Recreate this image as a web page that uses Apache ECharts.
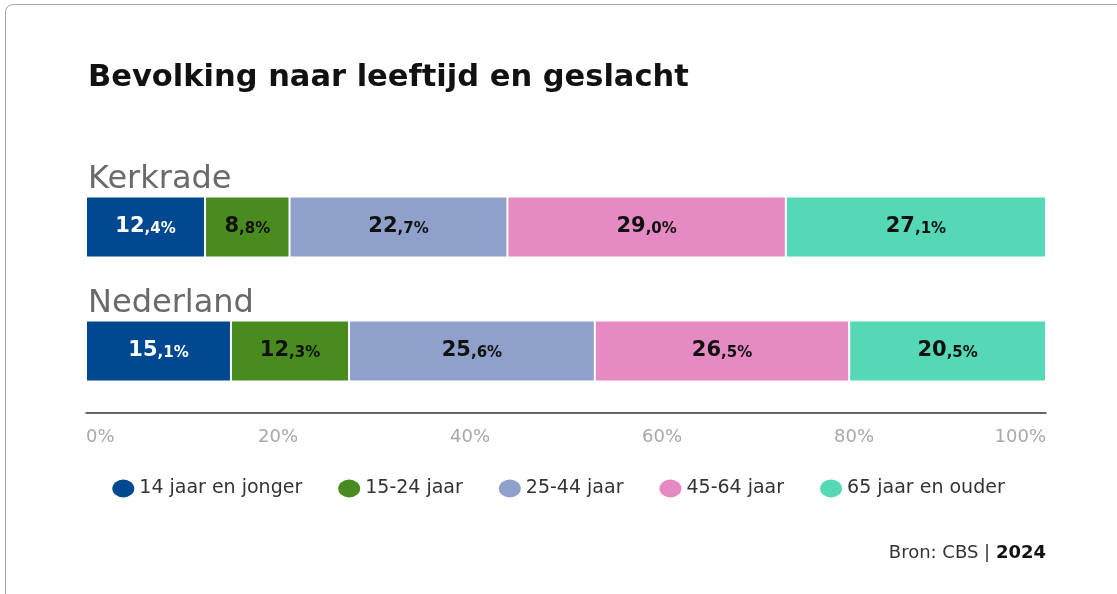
<!DOCTYPE html>
<html>
<head>
<meta charset="utf-8">
<title>Bevolking naar leeftijd en geslacht</title>
<script src="https://cdn.jsdelivr.net/npm/echarts@6/dist/echarts.min.js"></script>
<style>
  html, body {
    margin: 0;
    padding: 0;
    background: #fff;
    overflow: hidden;
  }
  .card {
    position: absolute;
    left: 5px;
    top: 4px;
    width: 1200px;
    height: 700px;
    border: 1.5px solid #a8a8a8;
    border-radius: 8px;
  }
  #chart {
    position: absolute;
    left: 0;
    top: 0;
    width: 1117px;
    height: 594px;
  }
</style>
</head>
<body>
<div class="card"></div>
<div id="chart"></div>
<script>
// regio's (categorieen)
const regions = ["Kerkrade", "Nederland"];
// leeftijdsgroepen (legenda)
const ageGroups = [
  "14 jaar en jonger",
  "15-24 jaar",
  "25-44 jaar",
  "45-64 jaar",
  "65 jaar en ouder",
];
// aandeel per groep, in procenten
const kerkradeValues = [12.4, 8.8, 22.7, 29.0, 27.1];
const nederlandValues = [15.1, 12.3, 25.6, 26.5, 20.5];
const tickLabels = ["0%", "20%", "40%", "60%", "80%", "100%"];

const colors = ["#00488f", "#4a8b1f", "#8fa1cb", "#e58ac2", "#55d8b5"];
const labelColors = ["#ffffff", "#111111", "#111111", "#111111", "#111111"];
const font = "DejaVu Sans";

const chart = echarts.init(document.getElementById("chart"));

// 12.4 -> "{big|12}{small|,4%}"
function pctLabel(v) {
  const parts = v.toFixed(1).split(".");
  return "{big|" + parts[0] + "}{small|," + parts[1] + "%}";
}

const series = ageGroups.map((name, i) => {
  return {
    name: name,
    type: "bar",
    stack: "totaal",
    barWidth: 61,
    data: [kerkradeValues[i], nederlandValues[i]],
    itemStyle: {
      color: colors[i],
      borderColor: "#ffffff",
      borderWidth: 1,
    },
    label: {
      show: true,
      position: "inside",
      formatter: (p) => pctLabel(p.value),
      rich: {
        big: {
          fontFamily: font,
          fontWeight: "bold",
          fontSize: 21,
          color: labelColors[i],
        },
        small: {
          fontFamily: font,
          fontWeight: "bold",
          fontSize: 15,
          color: labelColors[i],
          padding: [4, 0, 0, 0],
        },
      },
    },
  };
});

const option = {
  animation: false,
  color: colors,
  title: [
    {
      text: "Bevolking naar leeftijd en geslacht",
      left: 83,
      top: 58,
      textStyle: {
        fontFamily: font,
        fontWeight: "bold",
        fontSize: 30.5,
        color: "#111",
      },
    },
    {
      text: "Bron: CBS | {b|2024}",
      right: 66,
      top: 539,
      textStyle: {
        fontFamily: font,
        fontWeight: "normal",
        fontSize: 18,
        color: "#333",
        rich: {
          b: {
            fontFamily: font,
            fontSize: 18,
            fontWeight: "bold",
            color: "#111",
          },
        },
      },
    },
  ],
  legend: {
    data: ageGroups,
    left: "center",
    top: 474,
    itemGap: 36,
    itemWidth: 22,
    itemHeight: 18,
    icon: "path://M0,9 A11,9 0 1,1 22,9 A11,9 0 1,1 0,9 Z",
    itemStyle: {
      borderWidth: 0,
    },
    textStyle: {
      fontFamily: font,
      fontSize: 19,
      color: "#333",
    },
  },
  grid: {
    left: 86,
    right: 71,
    top: 165,
    bottom: 181,
  },
  xAxis: {
    type: "value",
    min: 0,
    max: 100,
    interval: 20,
    axisLine: {
      show: true,
      lineStyle: { color: "#333", width: 1.5 },
    },
    axisTick: { show: false },
    splitLine: { show: false },
    axisLabel: {
      margin: 15,
      formatter: (v) => tickLabels[v / 20],
      alignMinLabel: "left",
      alignMaxLabel: "right",
      fontFamily: font,
      fontSize: 18,
      color: "#a8a8a8",
    },
  },
  yAxis: {
    type: "category",
    inverse: true,
    data: regions,
    axisLine: { show: false },
    axisTick: { show: false },
    axisLabel: {
      inside: true,
      margin: 2,
      align: "left",
      verticalAlign: "bottom",
      padding: [0, 0, 30, 0],
      lineHeight: 34,
      fontFamily: font,
      fontSize: 32,
      color: "#6a6a6a",
    },
  },
  series: series,
};

chart.setOption(option);
</script>
</body>
</html>
